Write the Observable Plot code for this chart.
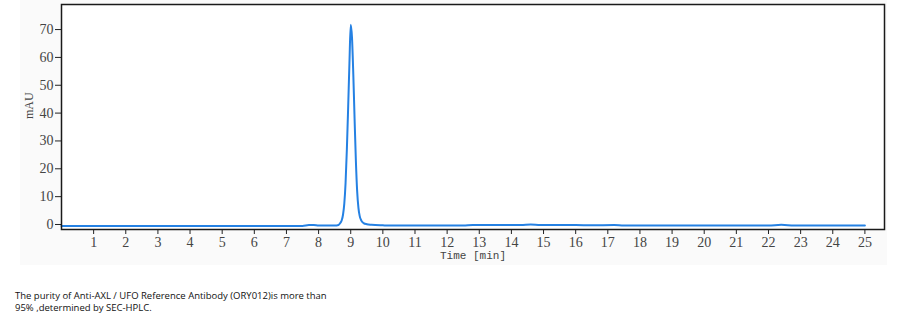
<!DOCTYPE html>
<html>
<head>
<meta charset="utf-8">
<script src="https://cdn.jsdelivr.net/npm/d3@7"></script>
<script src="https://cdn.jsdelivr.net/npm/@observablehq/plot@0.6"></script>
<style>
  html, body { margin: 0; padding: 0; background: #ffffff; }
  #wrap { position: relative; width: 911px; height: 329px; }
  #bg { position: absolute; left: 20px; top: 0px; width: 867px; height: 265px; background: #fafafa; }
  #chart { position: absolute; left: 0; top: 0; }
  #caption { position: absolute; left: 15px; top: 290px; font-family: "Open Sans", sans-serif; font-size: 9.5px; line-height: 12px; color: #111; }
</style>
</head>
<body>
<div id="wrap">
  <div id="bg"></div>
  <div id="chart"></div>
  <div id="caption">The purity of Anti-AXL / UFO Reference Antibody (ORY012)is more than<br>95% ,determined by SEC-HPLC.</div>
</div>
<script>
// Retention time (min)
const times = [0, 7.5, 7.7, 7.85, 8.0, 8.5, 8.62, 8.68, 8.72, 8.76, 8.8, 8.84, 8.88, 8.92, 8.96, 9.0, 9.04, 9.08, 9.12, 9.16, 9.2, 9.24, 9.28, 9.33, 9.4, 9.5, 9.65, 10.0, 10.3, 12.5, 12.8, 14.3, 14.6, 14.9, 16.0, 16.5, 17.2, 17.5, 22.0, 22.4, 22.8, 25];
// Absorbance (mAU)
const mAU = [-0.5, -0.5, -0.2, -0.2, -0.4, -0.4, -0.2, 0.6, 1.5, 3.5, 7.5, 15, 27, 42, 58, 71.7, 67, 54, 38, 23, 12, 6, 3, 1.4, 0.5, 0.1, -0.1, -0.3, -0.4, -0.4, -0.2, -0.2, 0.0, -0.2, -0.2, -0.3, -0.2, -0.4, -0.4, -0.1, -0.4, -0.4];
const xTicks = [1,2,3,4,5,6,7,8,9,10,11,12,13,14,15,16,17,18,19,20,21,22,23,24,25];
const yTicks = [0,10,20,30,40,50,60,70];

const data = times.map((t, i) => ({t, v: mAU[i]}));
const serif = "'Liberation Serif', 'DejaVu Serif', serif";

const plot = Plot.plot({
  width: 911,
  height: 270,
  marginLeft: 61,
  marginRight: 27,
  marginTop: 4,
  marginBottom: 41,
  style: {background: "transparent", fontSize: "14px", color: "#444", fontFamily: serif},
  x: {domain: [0, 25.61], label: null},
  y: {domain: [-1.8, 79], label: null},
  marks: [
    Plot.frame({fill: "white", stroke: "none"}),
    Plot.axisX({ticks: xTicks, tickFormat: d => String(d), tickSize: 5, tickPadding: 3, stroke: "#222", fill: "#444", fontSize: 14, fontFamily: serif, label: null}),
    Plot.axisY({ticks: yTicks, tickFormat: d => String(d), tickSize: 6, tickPadding: 2, stroke: "#222", fill: "#444", fontSize: 14, fontFamily: serif, label: null}),
    Plot.line(data, {x: "t", y: "v", stroke: "#2581e3", strokeWidth: 2, curve: "monotone-x"}),
    Plot.frame({stroke: "#1a1a1a", strokeWidth: 1.5}),
    Plot.text(["Time [min]"], {frameAnchor: "bottom", dy: 29, fontFamily: "'Liberation Mono', monospace", fontSize: 11, fill: "#444"}),
    Plot.text(["mAU"], {frameAnchor: "left", dx: -32, dy: 2, rotate: -90, fontSize: 12, fontFamily: serif, fill: "#444"})
  ]
});
document.getElementById("chart").appendChild(plot);
</script>
</body>
</html>
